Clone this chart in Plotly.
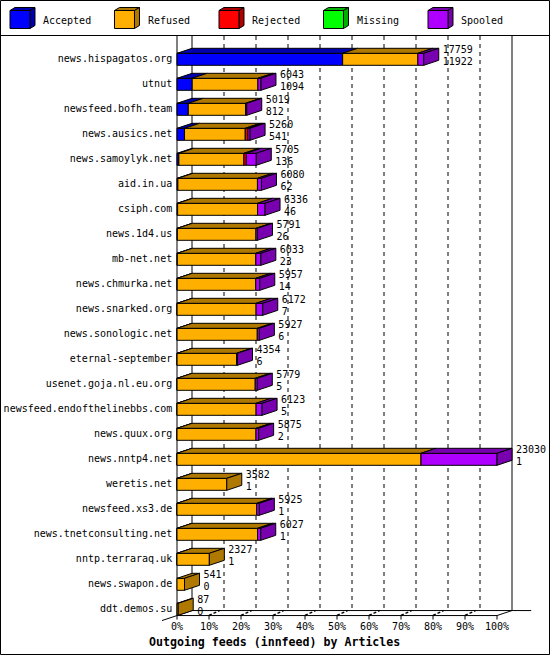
import plotly.graph_objects as go

# ---------------- data ----------------
hosts = ["news.hispagatos.org", "utnut", "newsfeed.bofh.team", "news.ausics.net",
         "news.samoylyk.net", "aid.in.ua", "csiph.com", "news.1d4.us", "mb-net.net",
         "news.chmurka.net", "news.snarked.org", "news.sonologic.net",
         "eternal-september", "usenet.goja.nl.eu.org", "newsfeed.endofthelinebbs.com",
         "news.quux.org", "news.nntp4.net", "weretis.net", "newsfeed.xs3.de",
         "news.tnetconsulting.net", "nntp.terraraq.uk", "news.swapon.de", "ddt.demos.su"]
totals = [17759, 6043, 5019, 5260, 5705, 6080, 6336, 5791, 6033, 5957, 6172, 5927,
          4354, 5779, 6123, 5875, 23030, 3582, 5925, 6027, 2327, 541, 87]
accepted = [11922, 1094, 812, 541, 136, 62, 46, 26, 23, 14, 7, 6,
            6, 5, 5, 2, 1, 1, 1, 1, 1, 0, 0]
refused = [5417, 4729, 4125, 4370, 4680, 5728, 5750, 5655, 5650, 5653, 5685, 5771,
           4278, 5624, 5688, 5683, 17559, 3581, 5734, 5796, 2326, 541, 87]
rejected = [0, 0, 0, 190, 170, 0, 0, 0, 0, 0, 0, 0,
            0, 0, 0, 0, 0, 0, 0, 0, 0, 0, 0]
missing = [0, 0, 0, 0, 0, 0, 0, 0, 0, 0, 0, 0,
           0, 0, 0, 0, 0, 0, 0, 0, 0, 0, 0]
spooled = [420, 220, 82, 159, 719, 290, 540, 110, 360, 290, 480, 150,
           70, 150, 430, 190, 5470, 0, 190, 230, 0, 0, 0]
series_names = ["Accepted", "Refused", "Rejected", "Missing", "Spooled"]
pct_ticks = [0, 10, 20, 30, 40, 50, 60, 70, 80, 90, 100]
pct_labels = ["0%", "10%", "20%", "30%", "40%", "50%", "60%", "70%", "80%", "90%", "100%"]
x_title = "Outgoing feeds (innfeed) by Articles"

# ---------------- style ----------------
face = ["#0000FF", "#FFAF00", "#FF0000", "#00FF00", "#AF00FF"]
dark = ["#0000AF", "#AF7800", "#AF0000", "#00AF00", "#7800AF"]
FONT = "DejaVu Sans Mono"
W, HGT = 550, 655
X0PX, PXPCT = 177.0, 3.2          # pixel of 0 %, pixels per percent
Y0PX, PXROW = 59.3, 25.0          # pixel of first row centre, pixels per row
DX = 15 / PXPCT                   # depth offset (percent units)
DY = 5 / PXROW                    # depth offset (row units)
HB = 0.24                         # half bar height (rows)

series = [accepted, refused, rejected, missing, spooled]
n = len(hosts)
rows = list(range(n))
vmax = max(totals)
scale = 100.0 / vmax
FLOOR = (n - 1) + 0.25
TOP = (36 - Y0PX) / PXROW

def px2paper(x, y):
    return x / W, 1 - y / HGT

fig = go.Figure()

# ---------- back wall, grid and floor ----------
line_k = dict(color="black", width=1)
for t in pct_ticks[1:-1]:
    fig.add_shape(type="line", x0=t + DX, x1=t + DX, y0=TOP, y1=FLOOR - DY,
                  line=dict(color="black", width=1, dash="4px,4px"), layer="below")
# walls
fig.add_shape(type="line", x0=0, x1=0, y0=TOP, y1=FLOOR, line=line_k, layer="below")
fig.add_shape(type="line", x0=DX, x1=DX, y0=TOP, y1=FLOOR - DY, line=line_k, layer="below")
fig.add_shape(type="line", x0=100 + DX, x1=100 + DX, y0=TOP, y1=FLOOR - DY, line=line_k, layer="below")
# floor
fig.add_shape(type="line", x0=0, x1=100, y0=FLOOR, y1=FLOOR, line=line_k, layer="below")
fig.add_shape(type="line", x0=DX, x1=100 + DX + 6, y0=FLOOR - DY, y1=FLOOR - DY, line=line_k, layer="below")
fig.add_shape(type="line", x0=-DX, x1=DX, y0=FLOOR + DY, y1=FLOOR - DY, line=line_k, layer="below")
fig.add_shape(type="line", x0=100, x1=100 + DX, y0=FLOOR, y1=FLOOR - DY, line=line_k, layer="below")
for t in pct_ticks:
    fig.add_shape(type="line", x0=t, x1=t, y0=FLOOR, y1=FLOOR + 0.16, line=line_k, layer="below")
    if 0 < t < 100:
        fig.add_shape(type="line", x0=t, x1=t + DX * 0.7, y0=FLOOR, y1=FLOOR - DY,
                      line=dict(color="black", width=1.5, dash="3px,2px"), layer="below")

# ---------- bars (front faces) + top faces ----------
cum = [0] * n
side_x = [[] for _ in series]
side_y = [[] for _ in series]
last_seg = [None] * n
for k, vals in enumerate(series):
    fig.add_trace(go.Bar(
        orientation="h", y=rows,
        x=[v * scale if v > 0 else None for v in vals],
        base=[c * scale for c in cum], width=2 * HB,
        marker=dict(color=face[k], line=dict(color="black", width=1)),
        name=series_names[k], showlegend=False, hoverinfo="skip"))
    tx, ty = [], []
    for i in rows:
        v = vals[i]
        if v <= 0:
            continue
        a = cum[i] * scale
        b = (cum[i] + v) * scale
        yt = i - HB
        tx += [a, b, b + DX, a + DX, a, None]
        ty += [yt, yt, yt - DY, yt - DY, yt, None]
        last_seg[i] = k
    fig.add_trace(go.Scatter(x=tx, y=ty, mode="lines", fill="toself",
                             fillcolor=dark[k], line=dict(color="black", width=1),
                             hoverinfo="skip", showlegend=False))
    cum = [c + v for c, v in zip(cum, vals)]

# side faces
for i in rows:
    k = last_seg[i]
    e = cum[i] * scale
    side_x[k] += [e, e, e + DX, e + DX, e, None]
    side_y[k] += [i - HB, i + HB, i + HB - DY, i - HB - DY, i - HB, None]
for k in range(len(series)):
    if side_x[k]:
        fig.add_trace(go.Scatter(x=side_x[k], y=side_y[k], mode="lines", fill="toself",
                                 fillcolor=dark[k], line=dict(color="black", width=1),
                                 hoverinfo="skip", showlegend=False))

# ---------- text ----------
tfont = dict(family=FONT, size=10, color="black")
LPAD = 4 / PXPCT
fig.add_trace(go.Scatter(x=[-1.5] * n, y=rows, mode="text", text=hosts,
                         textposition="middle left", textfont=tfont,
                         hoverinfo="skip", showlegend=False))
fig.add_trace(go.Scatter(x=[c * scale + DX + LPAD for c in cum], y=[i - 0.35 for i in rows],
                         mode="text", text=[str(t) for t in totals],
                         textposition="middle right", textfont=tfont,
                         hoverinfo="skip", showlegend=False))
fig.add_trace(go.Scatter(x=[c * scale + DX + LPAD for c in cum], y=[i + 0.11 for i in rows],
                         mode="text", text=[str(a) for a in accepted],
                         textposition="middle right", textfont=tfont,
                         hoverinfo="skip", showlegend=False))
fig.add_trace(go.Scatter(x=pct_ticks, y=[FLOOR + 0.48] * len(pct_ticks), mode="text",
                         text=pct_labels, textposition="middle center", textfont=tfont,
                         hoverinfo="skip", showlegend=False))

ax, ay = px2paper(274, 642)
fig.add_annotation(x=ax, y=ay, xref="paper", yref="paper", showarrow=False,
                   text="<b>" + x_title + "</b>", xanchor="center", yanchor="middle",
                   font=dict(family=FONT, size=11.6, color="black"))

# ---------- legend (cubes) ----------
for k, name in enumerate(series_names):
    x0 = 10 + 104.5 * k
    def P(x, y):
        return "%f %f" % px2paper(x, y)
    front = "M %s L %s L %s L %s Z" % (P(x0, 10.5), P(x0 + 20, 10.5), P(x0 + 20, 28.5), P(x0, 28.5))
    top = "M %s L %s L %s L %s Z" % (P(x0, 10.5), P(x0 + 5, 7.5), P(x0 + 25, 7.5), P(x0 + 20, 10.5))
    side = "M %s L %s L %s L %s Z" % (P(x0 + 20, 10.5), P(x0 + 25, 7.5), P(x0 + 25, 25.5), P(x0 + 20, 28.5))
    for path, col in ((top, dark[k]), (side, dark[k]), (front, face[k])):
        fig.add_shape(type="path", path=path, xref="paper", yref="paper",
                      fillcolor=col, line=dict(color="black", width=1))
    lx, ly = px2paper(x0 + 31, 20)
    fig.add_annotation(x=lx, y=ly, xref="paper", yref="paper", showarrow=False,
                       text=name, xanchor="left", yanchor="middle",
                       font=dict(family=FONT, size=10, color="black"))

# separator + border
sx0, sy = px2paper(0, 35.5)
fig.add_shape(type="line", xref="paper", yref="paper", x0=0, x1=1, y0=sy, y1=sy, line=line_k)
bx0, by0 = px2paper(0.5, 654.5)
bx1, by1 = px2paper(549.5, 0.5)
fig.add_shape(type="rect", xref="paper", yref="paper", x0=bx0, x1=bx1, y0=by0, y1=by1,
              line=line_k, fillcolor="rgba(0,0,0,0)")

fig.update_layout(
    width=W, height=HGT, margin=dict(l=0, r=0, t=0, b=0),
    paper_bgcolor="white", plot_bgcolor="white", barmode="overlay",
    showlegend=False,
    xaxis=dict(visible=False, range=[-X0PX / PXPCT, (W - X0PX) / PXPCT], fixedrange=True),
    yaxis=dict(visible=False, range=[(HGT - Y0PX) / PXROW, -Y0PX / PXROW], fixedrange=True),
)

fig.write_html("out.html")
